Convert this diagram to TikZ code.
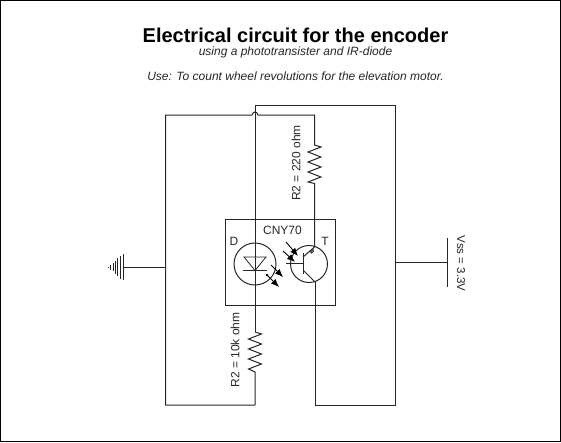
\documentclass[tikz,border=0pt]{standalone}
\usepackage{fontspec}
\setmainfont{Liberation Sans}
\usetikzlibrary{arrows.meta}
\tikzset{
    wire/.style={line width=1pt,black!85},
    part/.style={draw=black!85,line width=1pt,inner sep=0pt},
    thinpart/.style={draw=black!85,line width=0.8pt},
    photo/.style={line width=0.9pt,black,-{Latex[length=8pt,width=6.5pt]}},
    lbl/.style={inner sep=0pt,font=\fontsize{12}{14}\selectfont,text=black!85},
    sublbl/.style={inner sep=0pt,font=\fontsize{12}{14}\selectfont\itshape,text=black!85}
}
\begin{document}
\begin{tikzpicture}[x=1pt,y=-1pt]
    \useasboundingbox (0,0) rectangle (561,442);
    \draw[black,line width=1pt] (0.5,0.5) rectangle (560.5,441.5);
    % titles
    \node[inner sep=0pt,font=\fontsize{20}{24}\bfseries\selectfont] (title) at (295.5,35) {Electrical circuit for the encoder};
    \node[sublbl] (subtitle) at (295.5,52.5) {using a phototransister and IR-diode};
    \node[sublbl] (usage) at (295.5,76) {Use: To count wheel revolutions for the elevation motor.};
    % wire corners
    \coordinate (outerA) at (255,105.5);
    \coordinate (outerB) at (395.5,105.5);
    \coordinate (outerC) at (395.5,405);
    \coordinate (outerD) at (315,405);
    \coordinate (innerA) at (165.5,115);
    \coordinate (innerB) at (314.5,115);
    \coordinate (innerC) at (255,405);
    \coordinate (innerD) at (165.5,405);
    \coordinate (hopL) at (252,115);
    \coordinate (hopR) at (258,115);
    \coordinate (gndA) at (123,267);
    \coordinate (gndB) at (165.5,267);
    \coordinate (vssA) at (395.5,262);
    \coordinate (vssB) at (447,262);
    \coordinate (collector) at (314.5,247);
    \coordinate (emitter) at (315,282);
    % chip
    \node[part,minimum width=110pt,minimum height=86pt] (chip) at (280.5,262.5) {};
    \node[part,circle,minimum size=42pt] (led) at (255,264) {};
    \node[part,circle,minimum size=37pt] (photo) at (309,264) {};
    % wires
    \draw[wire] (innerC) -- (innerD) -- (innerA) -- (hopL) .. controls (253,111) and (257,111) .. (hopR) -- (innerB) -- (314.5,145);
    \draw[wire] (314.5,145) -- ++(6.5,2) -- ++(-13,5) -- ++(13,5) -- ++(-13,5) -- ++(13,5) -- ++(-13,5) -- ++(13,5) -- ++(-13,5) -- (314.5,183.5) -- (collector);
    \draw[wire] (emitter) -- (outerD) -- (outerC) -- (outerB) -- (outerA) -- (255,332);
    \draw[wire] (255,332) -- ++(6.5,2) -- ++(-13,5) -- ++(13,5) -- ++(-13,5) -- ++(13,5) -- ++(-13,5) -- ++(13,5) -- ++(-13,5) -- (255,372) -- (innerC);
    % diode
    \draw[thinpart] (244,257) -- (266,257) -- (255,270.5) -- cycle;
    \draw[thinpart] (243,270.5) -- (267,270.5);
    \draw[photo] (271,265) -- (283,277);
    \draw[photo] (267,275) -- (279,287);
    \fill (267,275) circle (1.3pt);
    % transistor
    \draw[part] (303,253) -- (303,274);
    \draw[wire] (286,263.5) -- (303,263.5);
    \draw[wire] (303,257) -- (collector);
    \draw[thinpart,fill=white] (310.5,252) -- (313,249.5) -- (313.5,251.5) -- (311.5,253) -- cycle;
    \draw[wire] (303,270) -- (emitter);
    \draw[photo] (286,242) -- (298,256);
    \draw[photo] (283,251) -- (295,262);
    % ground and supply
    \draw[wire] (gndA) -- (gndB);
    \draw[wire] (vssA) -- (vssB);
    \draw[wire] (447,238) -- (447,287);
    \foreach \x/\h in {123/13,120.5/11.5,117/9,115.5/6.5,113/4,110.5/2.5,108/0.5}
        \draw[wire] (\x,267-\h) -- (\x,267+\h);
    % labels
    \node[lbl] (cnyLbl) at (282.5,230) {CNY70};
    \node[lbl] (dLbl) at (234,241.5) {D};
    \node[lbl] (tLbl) at (325,241.5) {T};
    \node[lbl,rotate=90] (rTop) at (296,163) {R2 = 220 ohm};
    \node[lbl,rotate=90] (rBot) at (235,350) {R2 = 10k ohm};
    \node[lbl,rotate=-90,font=\fontsize{11.5}{14}\selectfont] (vssLbl) at (461,263.5) {Vss = 3.3V};
\end{tikzpicture}
\end{document}
